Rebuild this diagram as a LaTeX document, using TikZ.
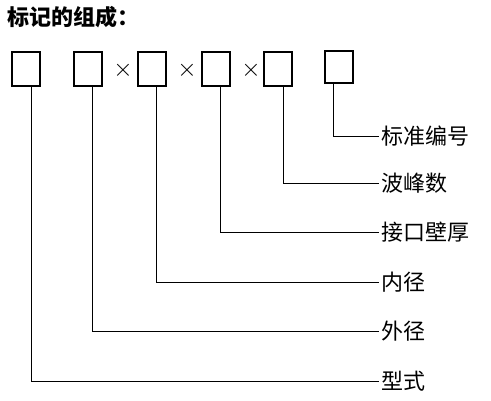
\documentclass[tikz,border=0pt]{standalone}
\usepackage{fontspec}
\newfontfamily\cjk{Noto Sans CJK SC}
\begin{document}
\begin{tikzpicture}[x=1pt,y=-1pt,
  bx/.style={draw,line width=2pt,minimum width=28pt,minimum height=34pt,inner sep=0pt},
  lbl/.style={anchor=west,inner sep=2pt,font=\cjk\fontsize{22}{24}\selectfont},
  conn/.style={line width=0.9pt},
  tms/.style={inner sep=0pt,font=\fontsize{26}{28}\selectfont}]
\useasboundingbox (0,0) rectangle (491,401);
\node[anchor=west,inner sep=0pt,font=\cjk\bfseries\fontsize{22}{24}\selectfont] (title) at (7,17) {标记的组成：};
\node[bx] (b1) at (25.5,69.5) {};
\node[bx] (b2) at (88,69.5) {};
\node[bx] (b3) at (151.5,69.5) {};
\node[bx] (b4) at (215.5,69.5) {};
\node[bx] (b5) at (278,69.5) {};
\node[bx,minimum height=32pt] (b6) at (339,67.5) {};
\node[tms] (x1) at (123,70) {$\times$};
\node[tms] (x2) at (187,70) {$\times$};
\node[tms] (x3) at (251,70) {$\times$};
\node[lbl] (l6) at (379,136) {标准编号};
\node[lbl] (l5) at (379,183) {波峰数};
\node[lbl] (l4) at (379,232) {接口壁厚};
\node[lbl] (l3) at (379,282) {内径};
\node[lbl] (l2) at (379,331) {外径};
\node[lbl] (l1) at (379,381) {型式};
\draw[conn] ([xshift=6pt]b1.south) |- (l1.west);
\draw[conn] ([xshift=4.5pt]b2.south) |- (l2.west);
\draw[conn] ([xshift=5pt]b3.south) |- (l3.west);
\draw[conn] ([xshift=4.5pt]b4.south) |- (l4.west);
\draw[conn] ([xshift=5pt]b5.south) |- (l5.west);
\draw[conn] ([xshift=-5.5pt]b6.south) |- (l6.west);
\end{tikzpicture}
\end{document}
